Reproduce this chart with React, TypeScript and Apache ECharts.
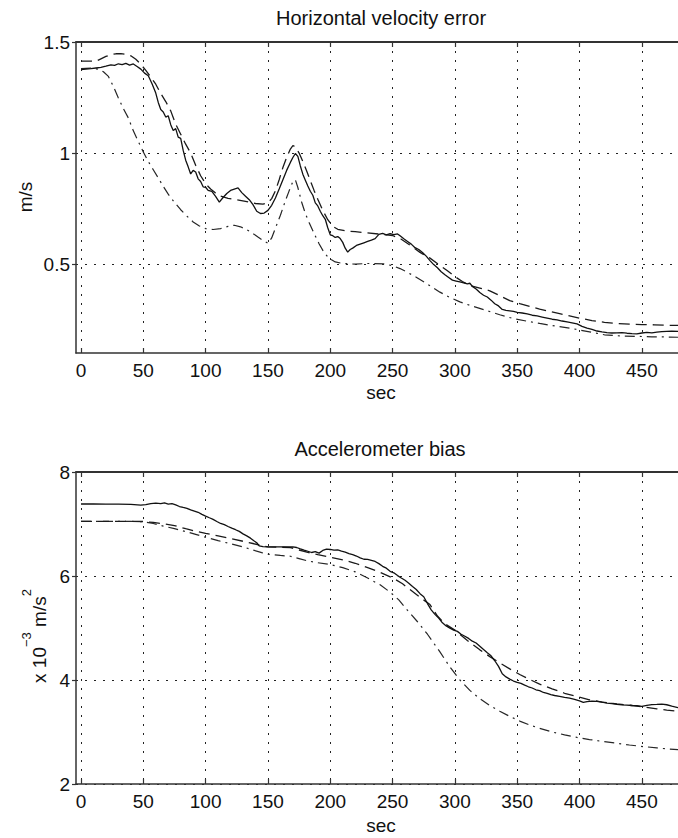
import React, { useEffect, useRef } from "react";
import * as echarts from "echarts";

// ---- data ----------------------------------------------------------------
const xTicks = [0, 50, 100, 150, 200, 250, 300, 350, 400, 450];
const velTicks = [0.5, 1, 1.5];
const biasTicks = [2, 4, 6, 8];

// Horizontal velocity error (m/s)
const velSolid: number[][] = [
  [0, 1.376], [4, 1.378], [8, 1.38], [12, 1.383], [16, 1.386], [20, 1.391], [24, 1.397], [27, 1.395],
  [30, 1.402], [33, 1.398], [36, 1.404], [39, 1.396], [42, 1.401], [45, 1.39], [48, 1.378], [51, 1.36],
  [54, 1.348], [57, 1.312], [60, 1.27], [62, 1.228], [64, 1.196], [66, 1.185], [68, 1.162], [70, 1.168],
  [72, 1.128], [74, 1.102], [76, 1.11], [78, 1.072], [80, 1.066], [82, 1.012], [84, 0.968], [86, 0.938],
  [88, 0.906], [90, 0.922], [92, 0.915], [94, 0.884], [96, 0.872], [98, 0.848], [100, 0.846], [102, 0.832],
  [105, 0.828], [108, 0.805], [111, 0.779], [114, 0.8], [117, 0.818], [120, 0.832], [123, 0.838], [126, 0.843],
  [129, 0.822], [132, 0.806], [135, 0.79], [138, 0.768], [141, 0.738], [144, 0.728], [147, 0.73], [150, 0.742],
  [153, 0.765], [156, 0.798], [159, 0.838], [162, 0.88], [165, 0.922], [168, 0.958], [170, 0.98], [172, 0.998],
  [174, 0.985], [176, 0.942], [178, 0.905], [180, 0.878], [182, 0.852], [184, 0.828], [186, 0.81], [188, 0.776],
  [190, 0.762], [192, 0.738], [194, 0.718], [196, 0.702], [198, 0.664], [200, 0.632], [202, 0.628], [204, 0.62],
  [206, 0.624], [208, 0.615], [210, 0.598], [212, 0.572], [214, 0.554], [216, 0.566], [218, 0.572], [221, 0.584],
  [224, 0.59], [227, 0.596], [230, 0.602], [233, 0.608], [236, 0.615], [239, 0.634], [242, 0.638], [245, 0.632],
  [248, 0.637], [251, 0.633], [254, 0.636], [256, 0.628], [259, 0.614], [262, 0.602], [265, 0.59], [268, 0.574],
  [271, 0.566], [274, 0.552], [277, 0.536], [280, 0.516], [283, 0.498], [286, 0.484], [289, 0.466], [292, 0.452],
  [295, 0.44], [298, 0.428], [301, 0.424], [304, 0.42], [307, 0.416], [310, 0.411], [312, 0.414], [314, 0.4],
  [317, 0.388], [320, 0.372], [323, 0.36], [326, 0.352], [329, 0.338], [332, 0.322], [335, 0.312], [338, 0.296],
  [341, 0.292], [344, 0.29], [347, 0.287], [350, 0.283], [354, 0.28], [358, 0.276], [362, 0.27], [366, 0.267],
  [370, 0.262], [374, 0.257], [378, 0.252], [382, 0.249], [386, 0.244], [390, 0.24], [394, 0.236], [398, 0.231],
  [402, 0.22], [406, 0.212], [410, 0.206], [414, 0.199], [418, 0.195], [422, 0.192], [426, 0.19], [430, 0.191],
  [434, 0.192], [438, 0.189], [442, 0.187], [446, 0.186], [450, 0.19], [454, 0.193], [458, 0.191], [462, 0.194],
  [466, 0.196], [470, 0.197], [474, 0.198], [479, 0.197],
];

const velDashed: number[][] = [
  [0, 1.414], [6, 1.414], [12, 1.413], [16, 1.424], [20, 1.435], [24, 1.443], [28, 1.447], [32, 1.448],
  [36, 1.445], [40, 1.438], [44, 1.422], [48, 1.4], [52, 1.372], [56, 1.342], [60, 1.31], [64, 1.268],
  [68, 1.232], [72, 1.19], [76, 1.13], [80, 1.085], [84, 1.04], [88, 1.0], [92, 0.945], [96, 0.898],
  [100, 0.862], [104, 0.838], [108, 0.82], [112, 0.806], [118, 0.796], [125, 0.79], [132, 0.783], [140, 0.773],
  [146, 0.77], [150, 0.776], [153, 0.795], [156, 0.83], [159, 0.88], [162, 0.935], [165, 0.98], [168, 1.018],
  [170, 1.034], [172, 1.028], [175, 1.0], [178, 0.962], [181, 0.92], [184, 0.876], [187, 0.832], [190, 0.792],
  [194, 0.742], [198, 0.7], [202, 0.67], [206, 0.657], [212, 0.65], [220, 0.646], [229, 0.641], [240, 0.635],
  [250, 0.629], [257, 0.612], [264, 0.585], [272, 0.553], [280, 0.527], [287, 0.498], [294, 0.47], [300, 0.444],
  [306, 0.422], [312, 0.404], [320, 0.392], [328, 0.38], [336, 0.358], [344, 0.336], [352, 0.322], [360, 0.31],
  [368, 0.298], [376, 0.287], [384, 0.277], [392, 0.267], [400, 0.257], [410, 0.246], [420, 0.238], [430, 0.233],
  [440, 0.23], [450, 0.228], [460, 0.227], [470, 0.225], [479, 0.224],
];

const velDashDot: number[][] = [
  [0, 1.38], [8, 1.382], [14, 1.378], [18, 1.366], [22, 1.345], [26, 1.3], [30, 1.248], [34, 1.2],
  [38, 1.158], [42, 1.1], [46, 1.052], [50, 1.005], [54, 0.962], [58, 0.925], [62, 0.888], [66, 0.85],
  [70, 0.815], [75, 0.778], [80, 0.745], [85, 0.716], [90, 0.69], [95, 0.672], [100, 0.66], [106, 0.656],
  [112, 0.66], [118, 0.67], [123, 0.675], [128, 0.668], [133, 0.655], [138, 0.638], [142, 0.622], [146, 0.607],
  [150, 0.594], [153, 0.618], [156, 0.662], [160, 0.72], [164, 0.785], [167, 0.83], [170, 0.872], [172, 0.88],
  [174, 0.845], [177, 0.78], [180, 0.728], [183, 0.688], [187, 0.638], [191, 0.592], [195, 0.553], [199, 0.526],
  [204, 0.51], [210, 0.503], [220, 0.5], [230, 0.503], [243, 0.501], [250, 0.493], [256, 0.48], [262, 0.463],
  [269, 0.441], [278, 0.41], [288, 0.374], [296, 0.35], [304, 0.33], [314, 0.311], [325, 0.292], [336, 0.272],
  [347, 0.255], [358, 0.243], [368, 0.233], [382, 0.22], [395, 0.209], [408, 0.195], [420, 0.182], [432, 0.177],
  [445, 0.175], [458, 0.173], [470, 0.172], [479, 0.171],
];

// Accelerometer bias (x 10^-3 m/s^2)
const biasSolid: number[][] = [
  [0, 7.385], [10, 7.386], [20, 7.384], [30, 7.383], [40, 7.378], [48, 7.362], [52, 7.372], [56, 7.392],
  [60, 7.4], [64, 7.392], [67, 7.405], [70, 7.384], [73, 7.392], [76, 7.368], [79, 7.336], [82, 7.318],
  [85, 7.302], [88, 7.27], [91, 7.248], [94, 7.225], [97, 7.186], [100, 7.152], [103, 7.12], [106, 7.09],
  [109, 7.048], [112, 7.01], [115, 6.988], [118, 6.952], [121, 6.92], [124, 6.89], [127, 6.858], [130, 6.81],
  [133, 6.772], [136, 6.728], [139, 6.672], [141, 6.64], [143, 6.58], [146, 6.565], [150, 6.562], [155, 6.56],
  [160, 6.562], [165, 6.558], [170, 6.56], [173, 6.548], [176, 6.522], [179, 6.498], [182, 6.476], [185, 6.452],
  [188, 6.468], [191, 6.44], [194, 6.492], [197, 6.518], [200, 6.51], [203, 6.496], [206, 6.502], [209, 6.478],
  [212, 6.46], [215, 6.432], [218, 6.412], [221, 6.384], [224, 6.35], [227, 6.322], [230, 6.32], [233, 6.3],
  [236, 6.28], [239, 6.238], [242, 6.186], [245, 6.15], [248, 6.09], [251, 6.062], [254, 6.008], [257, 5.962],
  [260, 5.918], [263, 5.862], [266, 5.8], [269, 5.74], [272, 5.66], [275, 5.6], [278, 5.47], [281, 5.35],
  [284, 5.262], [287, 5.19], [290, 5.1], [293, 5.04], [296, 4.998], [299, 4.96], [302, 4.935], [305, 4.88],
  [308, 4.842], [311, 4.8], [314, 4.746], [317, 4.712], [320, 4.65], [323, 4.585], [326, 4.522], [329, 4.466],
  [332, 4.37], [335, 4.262], [338, 4.12], [341, 4.06], [344, 4.018], [347, 3.98], [350, 3.954], [353, 3.936],
  [356, 3.902], [359, 3.87], [362, 3.846], [365, 3.812], [368, 3.795], [371, 3.76], [374, 3.742], [377, 3.718],
  [380, 3.702], [384, 3.684], [388, 3.665], [392, 3.65], [396, 3.628], [400, 3.598], [403, 3.568], [406, 3.586],
  [410, 3.592], [414, 3.588], [418, 3.574], [422, 3.556], [426, 3.548], [430, 3.53], [434, 3.522], [438, 3.518],
  [442, 3.51], [446, 3.505], [450, 3.492], [454, 3.512], [458, 3.526], [462, 3.53], [466, 3.535], [470, 3.524],
  [474, 3.498], [479, 3.47],
];

const biasDashed: number[][] = [
  [0, 7.05], [20, 7.05], [40, 7.05], [50, 7.048], [58, 7.03], [66, 7.005], [75, 6.97], [84, 6.91],
  [92, 6.862], [100, 6.82], [110, 6.77], [120, 6.72], [130, 6.668], [138, 6.625], [145, 6.58], [150, 6.56],
  [160, 6.555], [168, 6.545], [175, 6.5], [182, 6.455], [190, 6.41], [200, 6.36], [210, 6.31], [220, 6.245],
  [230, 6.16], [240, 6.07], [250, 5.965], [258, 5.85], [265, 5.72], [272, 5.59], [280, 5.45], [286, 5.23],
  [292, 5.08], [300, 4.96], [310, 4.76], [320, 4.58], [328, 4.45], [336, 4.33], [344, 4.215], [352, 4.105],
  [360, 4.01], [368, 3.92], [378, 3.83], [388, 3.745], [398, 3.68], [408, 3.62], [418, 3.575], [430, 3.54],
  [442, 3.51], [452, 3.478], [462, 3.445], [470, 3.42], [479, 3.4],
];

const biasDashDot: number[][] = [
  [0, 7.05], [20, 7.05], [40, 7.05], [50, 7.045], [58, 7.01], [66, 6.96], [75, 6.91], [84, 6.855],
  [92, 6.8], [100, 6.745], [110, 6.68], [120, 6.62], [130, 6.56], [138, 6.5], [145, 6.45], [150, 6.42],
  [160, 6.395], [168, 6.38], [175, 6.335], [182, 6.29], [190, 6.255], [200, 6.22], [210, 6.16], [220, 6.08],
  [230, 5.96], [240, 5.83], [248, 5.69], [255, 5.54], [262, 5.34], [270, 5.12], [278, 4.88], [288, 4.54],
  [296, 4.25], [304, 4.0], [312, 3.8], [320, 3.64], [328, 3.51], [336, 3.4], [344, 3.3], [352, 3.21],
  [360, 3.135], [368, 3.07], [378, 3.0], [388, 2.945], [398, 2.895], [408, 2.855], [418, 2.82], [428, 2.79],
  [440, 2.75], [451, 2.72], [462, 2.695], [470, 2.675], [479, 2.66],
];

// ---- styling -------------------------------------------------------------
const FONT = "'Liberation Sans', Arial, Helvetica, sans-serif";
const INK = "#111";
const AXIS = "#333";
const X_MIN = -4;
const X_MAX = 479;

const solidStyle = { color: "#111", width: 1.3, type: "solid" as const };
const dashedStyle = { color: "#1a1a1a", width: 1.3, type: [11, 6] };
const dashDotStyle = { color: "#262626", width: 1.2, type: [10, 5, 2, 5] };

function xAxes(gridIndex: number) {
  return [
    {
      type: "value",
      gridIndex,
      position: "bottom",
      min: X_MIN,
      max: X_MAX,
      axisLine: { show: true, onZero: false, lineStyle: { color: AXIS, width: 1.5 } },
      axisTick: { show: true, inside: true, length: 5, customValues: xTicks, lineStyle: { color: AXIS, width: 1.2 } },
      axisLabel: { customValues: xTicks, fontSize: 19, color: INK, fontFamily: FONT, margin: 8 },
      splitLine: { show: true, lineStyle: { color: "#222", width: 1, type: [2, 7] } },
    },
    {
      type: "value",
      gridIndex,
      position: "top",
      min: X_MIN,
      max: X_MAX,
      axisLine: { show: true, onZero: false, lineStyle: { color: AXIS, width: 1.8 } },
      axisTick: { show: true, inside: true, length: 5, customValues: xTicks, lineStyle: { color: AXIS, width: 1.2 } },
      axisLabel: { show: false },
      splitLine: { show: false },
    },
  ];
}

function yAxis(gridIndex: number, min: number, max: number, ticks: number[]) {
  return {
    type: "value",
    gridIndex,
    min,
    max,
    axisLine: { show: true, onZero: false, lineStyle: { color: AXIS, width: 1.5 } },
    axisTick: { show: true, inside: false, length: 4, customValues: ticks, lineStyle: { color: AXIS, width: 1.2 } },
    axisLabel: { customValues: ticks, fontSize: 19, color: INK, fontFamily: FONT, margin: 6 },
    splitLine: { show: true, lineStyle: { color: "#222", width: 1, type: [2, 7] } },
  };
}

function line(data: number[][], style: any, xAxisIndex: number, yAxisIndex: number) {
  return {
    type: "line",
    data,
    xAxisIndex,
    yAxisIndex,
    symbol: "none",
    showSymbol: false,
    silent: true,
    lineStyle: style,
    z: 3,
  };
}

function textEl(text: string, x: number, y: number, size = 19, rotation = 0) {
  return {
    type: "text",
    x,
    y,
    rotation,
    silent: true,
    style: {
      text,
      fill: INK,
      fontSize: size,
      fontFamily: FONT,
      align: "center",
      verticalAlign: "middle",
    },
  };
}

export default function App() {
  const ref = useRef<HTMLDivElement>(null);

  useEffect(() => {
    if (!ref.current) return;
    const chart = echarts.init(ref.current, null, { renderer: "svg" });

    chart.setOption({
      animation: false,
      backgroundColor: "#fff",
      grid: [
        { left: 76, top: 42, width: 602, height: 311, containLabel: false },
        { left: 76, top: 472, width: 602, height: 312, containLabel: false },
      ],
      xAxis: [...xAxes(0), ...xAxes(1)],
      yAxis: [yAxis(0, 0.1, 1.5, velTicks), yAxis(1, 2, 8, biasTicks)],
      series: [
        line(velDashDot, dashDotStyle, 0, 0),
        line(velDashed, dashedStyle, 0, 0),
        line(velSolid, solidStyle, 0, 0),
        line(biasDashDot, dashDotStyle, 2, 1),
        line(biasDashed, dashedStyle, 2, 1),
        line(biasSolid, solidStyle, 2, 1),
      ],
      graphic: [
        textEl("Horizontal velocity error", 381, 18, 20),
        textEl("Accelerometer bias", 380, 449, 20),
        textEl("sec", 381, 392, 19),
        textEl("sec", 381, 825, 19),
        textEl("m/s", 25, 197, 19, Math.PI / 2),
        {
          type: "text",
          x: 39,
          y: 636,
          rotation: Math.PI / 2,
          silent: true,
          style: {
            text: "{b|x 10}{s|−3}{b| m/s}{s|2}",
            align: "center",
            verticalAlign: "middle",
            fill: INK,
            fontFamily: FONT,
            rich: {
              b: { fontSize: 19, fontFamily: FONT, fill: INK, lineHeight: 38, verticalAlign: "middle" },
              s: { fontSize: 13, fontFamily: FONT, fill: INK, lineHeight: 14, verticalAlign: "top" },
            },
          },
        },
      ],
    });

    return () => chart.dispose();
  }, []);

  return (
    <div
      ref={ref}
      style={{ position: "fixed", left: 0, top: 0, width: 678, height: 838, background: "#fff" }}
    />
  );
}
